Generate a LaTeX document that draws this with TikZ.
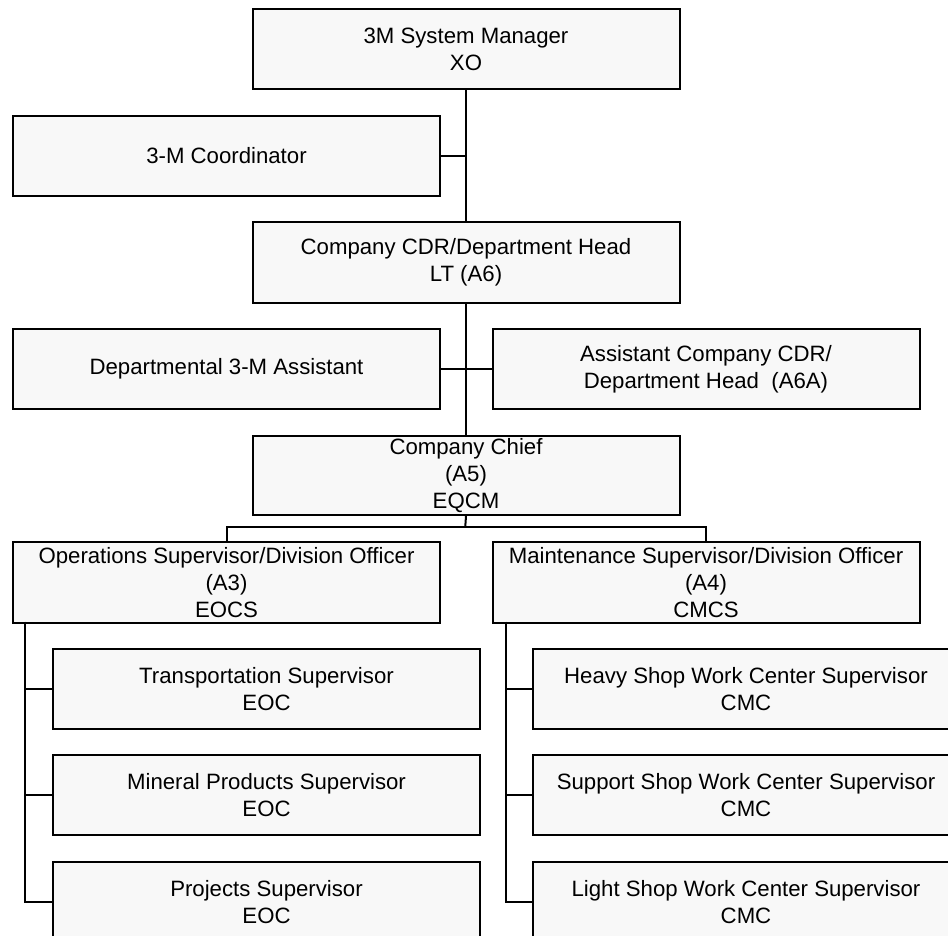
\documentclass[tikz,border=0pt]{standalone}
\usepackage{fontspec}
\setmainfont{Liberation Sans}
\definecolor{boxfill}{RGB}{248,248,248}
\tikzset{
  orgbox/.style={draw=black, line width=2pt, fill=boxfill, anchor=north west,
    minimum width=427pt, minimum height=80pt, inner sep=0pt, align=center,
    font=\fontsize{22.2}{26.7}\selectfont},
  conn/.style={draw=black, line width=2pt}
}
\begin{document}
\begin{tikzpicture}[x=1pt,y=1pt]
\useasboundingbox (0,0) rectangle (948,-936);
\clip (0,0) rectangle (948,-936);
\node[orgbox] (sm) at (251.5,-8.3) {3M System Manager\\XO};
\node[orgbox] (coord) at (12,-115) {3-M Coordinator};
\node[orgbox, minimum height=81pt] (cdr) at (251.5,-221) {Company CDR/Department Head\\LT (A6)};
\node[orgbox] (dept) at (12,-328) {Departmental 3-M Assistant};
\node[orgbox] (asst) at (491.5,-328) {Assistant Company CDR/\\Department Head\ \ (A6A)};
\node[orgbox, minimum height=79pt] (chief) at (251.5,-435) {Company Chief\\(A5)\\EQCM};
\node[orgbox, minimum height=81pt] (ops) at (12,-541) {Operations Supervisor/Division Officer\\(A3)\\EOCS};
\node[orgbox, minimum height=81pt] (maint) at (491.5,-541) {Maintenance Supervisor/Division Officer\\(A4)\\CMCS};
\node[orgbox] (t1) at (52,-648) {Transportation Supervisor\\EOC};
\node[orgbox] (t2) at (52,-754) {Mineral Products Supervisor\\EOC};
\node[orgbox] (t3) at (52,-861) {Projects Supervisor\\EOC};
\node[orgbox] (r1) at (531.5,-648) {Heavy Shop Work Center Supervisor\\CMC};
\node[orgbox] (r2) at (531.5,-754) {Support Shop Work Center Supervisor\\CMC};
\node[orgbox] (r3) at (531.5,-861) {Light Shop Work Center Supervisor\\CMC};
% trunk
\draw[conn] (sm.south) -- (cdr.north);
\draw[conn] (coord.east) -- (coord.east -| sm.south);
\draw[conn] (cdr.south) -- (chief.north);
\draw[conn] (dept.east) -- (asst.west);
% bus below chief
\coordinate (bus) at (465.25,-527);
\draw[conn] (chief.south) -- (bus);
\draw[conn] (ops.north) |- (bus) -| (maint.north);
% left trunk
\coordinate (lt) at (25.4,-621.5);
\draw[conn] (lt) |- (t3.west);
\draw[conn] (t1.west -| lt) -- (t1.west);
\draw[conn] (t2.west -| lt) -- (t2.west);
% right trunk
\coordinate (rt) at (505.5,-621.5);
\draw[conn] (rt) |- (r3.west);
\draw[conn] (r1.west -| rt) -- (r1.west);
\draw[conn] (r2.west -| rt) -- (r2.west);
\end{tikzpicture}
\end{document}
